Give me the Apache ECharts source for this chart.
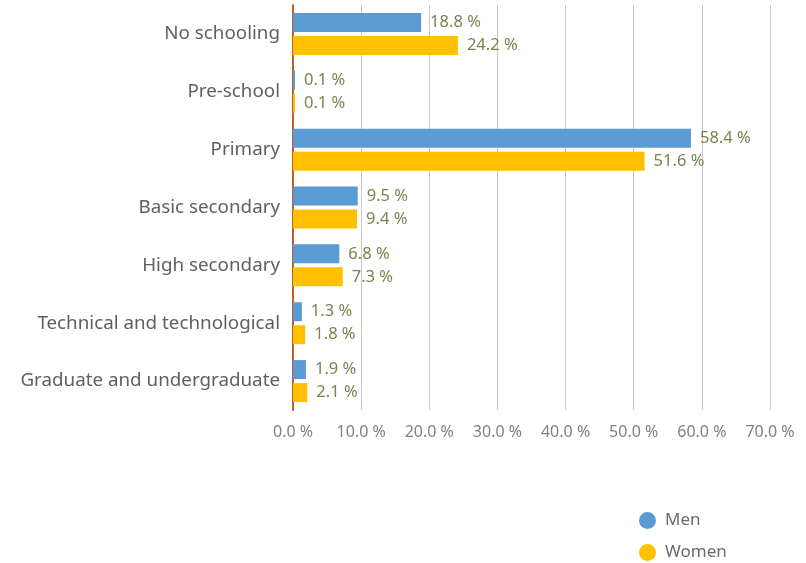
<!DOCTYPE html>
<html>
<head>
<meta charset="utf-8">
<script src="https://cdn.jsdelivr.net/npm/echarts@6/dist/echarts.min.js"></script>
<style>
  html, body { margin: 0; padding: 0; background: #fff; }
  #chart { width: 806px; height: 563px; }
</style>
</head>
<body>
<div id="chart"></div>
<script>
// Education level by sex (share of population, %)
const categories = [
  'No schooling',
  'Pre-school',
  'Primary',
  'Basic secondary',
  'High secondary',
  'Technical and technological',
  'Graduate and undergraduate'
];
const men = [18.8, 0.1, 58.4, 9.5, 6.8, 1.3, 1.9];
const women = [24.2, 0.1, 51.6, 9.4, 7.3, 1.8, 2.1];
const xTicks = { min: 0, max: 70, interval: 10 };

const FONT = '"Source Sans Pro", "Noto Sans", "Open Sans", sans-serif';
const pct = v => v.toFixed(1) + ' %';

const labelStyle = {
  show: true,
  position: 'right',
  distance: 9,
  color: '#7f7f4f',
  fontFamily: FONT,
  fontSize: 16.5,
  formatter: p => pct(p.value)
};

const legendBase = {
  orient: 'vertical',
  left: 634,
  itemWidth: 17,
  itemHeight: 17,
  icon: 'circle',
  textStyle: { color: '#6b6b6b', fontFamily: FONT, fontSize: 17, padding: [0, 0, 0, 4] }
};

const chart = echarts.init(document.getElementById('chart'));
chart.setOption({
  animation: false,
  textStyle: { fontFamily: FONT },
  grid: { left: 293, right: 36, top: 5, bottom: 153, containLabel: false },
  xAxis: {
    type: 'value',
    min: xTicks.min,
    max: xTicks.max,
    interval: xTicks.interval,
    axisLine: { show: false },
    axisTick: { show: false },
    splitLine: { show: true, lineStyle: { color: '#c8c8c8', width: 1 } },
    axisLabel: {
      margin: 14,
      color: '#808080',
      fontFamily: FONT,
      fontSize: 16,
      formatter: v => pct(v)
    }
  },
  yAxis: {
    type: 'category',
    data: categories,
    inverse: true,
    axisLine: { show: true, lineStyle: { color: '#b5622e', width: 2 } },
    axisTick: { show: false },
    axisLabel: {
      margin: 13,
      color: '#606060',
      fontFamily: FONT,
      fontSize: 18.8
    }
  },
  legend: [
    Object.assign({}, legendBase, { top: 507, data: ['Men'] }),
    Object.assign({}, legendBase, { top: 539, data: ['Women'] })
  ],
  series: [
    {
      name: 'Men',
      type: 'bar',
      data: men,
      barWidth: 19,
      barGap: '21%',
      barMinHeight: 2,
      itemStyle: { color: '#5b9bd5' },
      label: labelStyle
    },
    {
      name: 'Women',
      type: 'bar',
      data: women,
      barWidth: 19,
      barMinHeight: 2,
      itemStyle: { color: '#ffc000' },
      label: labelStyle
    }
  ]
});
</script>
</body>
</html>
